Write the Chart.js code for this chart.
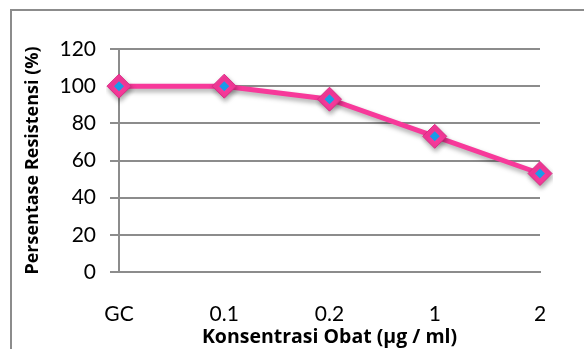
<!DOCTYPE html>
<html>
<head>
<meta charset="utf-8">
<script src="https://cdn.jsdelivr.net/npm/chart.js@4"></script>
<style>
  html, body { margin: 0; padding: 0; background: #fff; overflow: hidden; }
  #frame { position: absolute; left: 10px; top: 9px; width: 620px; height: 400px; border: 2px solid #8c8c8c; }
  #wrap { position: absolute; left: 0; top: 0; width: 584px; height: 349px; }
</style>
</head>
<body>
<div id="frame"></div>
<div id="wrap"><canvas id="chart-area" width="584" height="349"></canvas></div>
<script>
  // konsentrasi obat vs persentase resistensi
  var categories = ['GC', '0.1', '0.2', '1', '2'];
  var resistensi = [100, 100, 93, 73, 53];
  var yTicks = [0, 20, 40, 60, 80, 100, 120];

  var pink = '#f7399a';
  var blue = '#1a9be8';
  var gridGray = '#8c8c8c';
  var fontFamily = 'Lato, "Open Sans", sans-serif';
  var titleFamily = '"Open Sans", Lato, sans-serif';

  // soft shadow under the line and markers
  var shadowPlugin = {
    id: 'shadow',
    beforeDatasetDraw: function (chart, args) {
      if (args.index !== 0) return;
      var ctx = chart.ctx;
      ctx.save();
      ctx.shadowColor = 'rgba(0,0,0,0.35)';
      ctx.shadowBlur = 5;
      ctx.shadowOffsetX = 1;
      ctx.shadowOffsetY = 3;
    },
    afterDatasetDraw: function (chart, args) {
      if (args.index !== 0) return;
      chart.ctx.restore();
    }
  };

  var ctx = document.getElementById('chart-area').getContext('2d');
  window.myLine = new Chart(ctx, {
    type: 'line',
    data: {
      labels: categories,
      datasets: [
        {
          data: resistensi,
          borderColor: pink,
          borderWidth: 5,
          pointStyle: 'rectRot',
          pointRadius: 12,
          pointBackgroundColor: pink,
          pointBorderColor: '#d92b84',
          pointBorderWidth: 1,
          tension: 0,
          order: 2
        },
        {
          data: resistensi,
          showLine: false,
          pointStyle: 'rectRot',
          pointRadius: 5,
          pointBackgroundColor: blue,
          pointBorderColor: blue,
          pointBorderWidth: 0,
          order: 1
        }
      ]
    },
    options: {
      responsive: false,
      animation: false,
      plugins: {
        legend: { display: false },
        tooltip: { enabled: false }
      },
      layout: {
        padding: { left: 22, right: 44, top: 49, bottom: 0 }
      },
      scales: {
        x: {
          offset: false,
          afterFit: function (axis) { axis.height = 77; },
          grid: { display: false },
          border: { display: true, color: gridGray, width: 2 },
          ticks: {
            color: '#000',
            font: { family: fontFamily, size: 21 },
            padding: 22,
            maxRotation: 0
          },
          title: {
            display: true,
            text: 'Konsentrasi Obat (µg / ml)',
            color: '#000',
            font: { family: titleFamily, size: 19.5, weight: 'bold' },
            padding: { top: 0, bottom: 0 }
          }
        },
        y: {
          min: 0,
          max: 120,
          afterFit: function (axis) { axis.width = 97; },
          afterBuildTicks: function (axis) {
            axis.ticks = yTicks.map(function (v) { return { value: v }; });
          },
          grid: {
            color: gridGray,
            lineWidth: 2,
            tickLength: 9,
            drawTicks: true
          },
          border: { display: true, color: gridGray, width: 2 },
          ticks: {
            color: '#000',
            font: { family: fontFamily, size: 21 },
            padding: 14
          },
          title: {
            display: true,
            text: 'Persentase Resistensi (%)',
            color: '#000',
            font: { family: titleFamily, size: 18, weight: 'bold' },
            padding: { top: 0, bottom: 0 }
          }
        }
      }
    },
    plugins: [shadowPlugin]
  });
</script>
</body>
</html>
